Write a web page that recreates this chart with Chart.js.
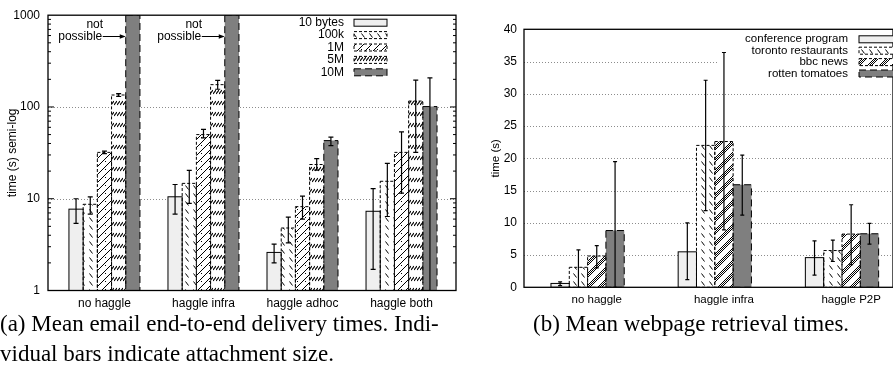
<!DOCTYPE html>
<html>
<head>
<meta charset="utf-8">
<script src="https://cdn.jsdelivr.net/npm/chart.js@4"></script>
<style>
body { margin: 0; background: #fff; width: 893px; height: 375px; overflow: hidden; position: relative; }
#emailChart { position: absolute; left: 0; top: 0; }
#webChart { position: absolute; left: 476px; top: 0; }
.cap { position: absolute; font-family: "Liberation Serif", "Times New Roman", serif; font-size: 23px; line-height: 29.5px; color: #000; white-space: nowrap; }
</style>
</head>
<body>
<canvas id="emailChart" width="470" height="312"></canvas>
<canvas id="webChart" width="417" height="312"></canvas>
<div class="cap" style="left:0;top:309px">(a) Mean email end-to-end delivery times. Indi-<br>vidual bars indicate attachment size.</div>
<div class="cap" style="left:533px;top:309px">(b) Mean webpage retrieval times.</div>
<script>
// ---- (a) email delivery, semi-log ----
const emailGroups = ['no haggle', 'haggle infra', 'haggle adhoc', 'haggle both'];
const emailSizes = ['10 bytes', '100k', '1M', '5M', '10M'];
const emailTicks = [1, 10, 100, 1000];

const mean10b = [7.7, 10.5, 2.6, 7.3];
const low10b = [5.4, 6.8, 2.0, 1.7];
const high10b = [10.0, 14.3, 3.2, 12.9];

const mean100k = [8.7, 14.7, 4.8, 15.5];
const low100k = [6.8, 8.9, 3.3, 6.4];
const high100k = [10.5, 20.4, 6.3, 24.3];

const mean1M = [32, 50, 8.2, 32];
const low1M = [31, 46, 6.0, 11.5];
const high1M = [33, 57, 10.7, 53.5];

const mean5M = [135, 175, 23.6, 116];
const low5M = [130, 156, 20.5, 32];
const high5M = [140, 195, 27.3, 196];

// 1000 = off the top of the axis ("not possible")
const mean10M = [1000, 1000, 43, 101];
const low10M = [null, null, 38, 1];
const high10M = [null, null, 47, 207];
const notPossible = [true, true, false, false];

// ---- (b) webpage retrieval ----
const webGroups = ['no haggle', 'haggle infra', 'haggle P2P'];
const webSites = ['conference program', 'toronto restaurants', 'bbc news', 'rotten tomatoes'];
const webTicks = [0, 5, 10, 15, 20, 25, 30, 35, 40];

const meanConf = [0.6, 5.5, 4.6];
const lowConf = [0.25, 1.2, 1.9];
const highConf = [0.85, 10.0, 7.2];

const meanToronto = [3.1, 22.0, 5.7];
const lowToronto = [0, 11.9, 4.0];
const highToronto = [5.8, 32.1, 7.3];

const meanBbc = [4.85, 22.6, 8.25];
const lowBbc = [3.0, 8.9, 3.5];
const highBbc = [6.45, 36.4, 12.8];

const meanRotten = [8.8, 15.9, 8.3];
const lowRotten = [0, 11.2, 6.7];
const highRotten = [19.5, 20.5, 9.9];

Chart.defaults.font.family = '"Liberation Sans", Arial, sans-serif';
Chart.defaults.color = '#000';

// fill patterns
function tile(w, h, paint) {
    const c = document.createElement('canvas');
    c.width = w; c.height = h;
    const g = c.getContext('2d');
    g.fillStyle = '#fff';
    g.fillRect(0, 0, w, h);
    g.strokeStyle = '#000';
    g.lineWidth = 1;
    paint(g);
    return g.createPattern(c, 'repeat');
}
const LIGHT = '#efefef';
const DARK = '#7f7f7f';
const dashBack = tile(8, 8, g => { g.beginPath(); g.moveTo(1.5, 1.5); g.lineTo(4.5, 5.5); g.stroke(); });
const slashLines = tile(8, 8, g => {
    g.beginPath();
    g.moveTo(0, 8); g.lineTo(8, 0);
    g.moveTo(-1, 1); g.lineTo(1, -1);
    g.moveTo(7, 9); g.lineTo(9, 7);
    g.stroke();
    g.fillStyle = '#000';
    g.fillRect(1, 1, 1, 1);
});
const hatchBands = tile(3, 11, g => { g.lineWidth = 1.2; g.beginPath(); g.moveTo(0, 6); g.lineTo(3, 2); g.stroke(); });
const bbcHatch = tile(12, 12, g => {
    g.beginPath();
    g.moveTo(0, 0); g.lineTo(6, 0); g.lineTo(0, 6); g.closePath();
    g.moveTo(12, 0); g.lineTo(12, 6); g.lineTo(6, 12); g.lineTo(0, 12); g.closePath();
    g.clip();
    g.beginPath();
    for (let k = -12; k <= 12; k += 2) { g.moveTo(k, 0); g.lineTo(k + 12, 12); }
    g.stroke();
});

const emailStyles = [
    { fill: LIGHT, dash: [] },
    { fill: dashBack, dash: [3, 2] },
    { fill: slashLines, dash: [3, 2] },
    { fill: hatchBands, dash: [3, 2] },
    { fill: DARK, dash: [7, 4] }
];
const webStyles = [
    { fill: LIGHT, dash: [] },
    { fill: dashBack, dash: [3, 2] },
    { fill: bbcHatch, dash: [3, 2] },
    { fill: DARK, dash: [7, 4] }
];

// grid, outlines, error bars, frame, key
const panelExtras = {
    id: 'panelExtras',
    beforeDatasetsDraw(chart, args, o) {
        const { ctx, chartArea: a, scales: { y } } = chart;
        ctx.save();
        ctx.strokeStyle = '#8c8c8c';
        ctx.lineWidth = 1;
        ctx.setLineDash([1, 2]);
        o.grid.forEach(v => {
            const py = Math.round(y.getPixelForValue(v)) + 0.5;
            ctx.beginPath(); ctx.moveTo(a.left, py); ctx.lineTo(a.right, py); ctx.stroke();
        });
        ctx.setLineDash([]);
        if (o.keyBox) { ctx.fillStyle = '#fff'; ctx.fillRect(o.keyBox[0], o.keyBox[1], o.keyBox[2], o.keyBox[3]); }
        ctx.restore();
    },
    afterDatasetsDraw(chart, args, o) {
        const { ctx, chartArea: a, scales: { y } } = chart;
        ctx.save();
        ctx.beginPath();
        ctx.rect(a.left, a.top, a.right - a.left, a.bottom - a.top);
        ctx.clip();
        ctx.strokeStyle = '#000';
        ctx.lineWidth = 1;
        chart.data.datasets.forEach((ds, d) => {
            ctx.setLineDash(o.styles[d].dash);
            chart.getDatasetMeta(d).data.forEach(bar => {
                const p = bar.getProps(['x', 'y', 'base', 'width'], true);
                ctx.strokeRect(p.x - p.width / 2, p.y, p.width, p.base - p.y);
            });
        });
        ctx.setLineDash([]);
        ctx.lineWidth = 1.2;
        chart.data.datasets.forEach((ds, d) => {
            chart.getDatasetMeta(d).data.forEach((bar, i) => {
                if (ds.errHigh[i] == null) return;
                const yh = y.getPixelForValue(ds.errHigh[i]);
                const yl = y.getPixelForValue(ds.errLow[i]);
                ctx.beginPath();
                ctx.moveTo(bar.x, yh); ctx.lineTo(bar.x, yl);
                ctx.moveTo(bar.x - o.cap, yh); ctx.lineTo(bar.x + o.cap, yh);
                ctx.moveTo(bar.x - o.cap, yl); ctx.lineTo(bar.x + o.cap, yl);
                ctx.stroke();
            });
        });
        ctx.restore();

        ctx.save();
        ctx.strokeStyle = '#000';
        ctx.lineWidth = 1;
        // inner tick marks (log minor ticks on left panel)
        (o.minor || []).forEach(v => {
            const py = y.getPixelForValue(v);
            ctx.beginPath();
            ctx.moveTo(a.left, py); ctx.lineTo(a.left + 3, py);
            ctx.moveTo(a.right, py); ctx.lineTo(a.right - 3, py);
            ctx.stroke();
        });
        (o.major || []).forEach(v => {
            const py = y.getPixelForValue(v);
            ctx.beginPath();
            ctx.moveTo(a.left, py); ctx.lineTo(a.left + 6, py);
            ctx.moveTo(a.right, py); ctx.lineTo(a.right - 6, py);
            ctx.stroke();
        });
        ctx.lineWidth = 1.3;
        ctx.strokeRect(a.left, a.top, a.right - a.left, a.bottom - a.top);

        // key
        const k = o.key;
        ctx.font = k.font;
        ctx.textAlign = 'right';
        ctx.textBaseline = 'middle';
        ctx.lineWidth = 1;
        k.labels.forEach((lab, j) => {
            const ry = k.y0 + j * k.dy;
            ctx.fillStyle = '#000';
            ctx.fillText(lab, k.textRight, ry);
            ctx.fillStyle = o.styles[j].fill;
            ctx.fillRect(k.sx, ry - k.sh / 2, k.sw, k.sh);
            ctx.setLineDash(o.styles[j].dash);
            ctx.strokeRect(k.sx, ry - k.sh / 2, k.sw, k.sh);
            ctx.setLineDash([]);
        });
        ctx.restore();
        if (o.after) o.after(chart);
    }
};

function datasetsFrom(names, means, lows, highs, styles, pct) {
    return names.map((name, k) => ({
        label: name,
        data: means[k].map((v, i) => ({ x: i, y: v })),
        errLow: lows[k],
        errHigh: highs[k],
        backgroundColor: styles[k].fill,
        borderWidth: 0,
        categoryPercentage: pct,
        barPercentage: 1
    }));
}

// (a) chart
new Chart(document.getElementById('emailChart'), {
    type: 'bar',
    data: {
        datasets: datasetsFrom(emailSizes,
            [mean10b, mean100k, mean1M, mean5M, mean10M],
            [low10b, low100k, low1M, low5M, low10M],
            [high10b, high100k, high1M, high5M, high10M],
            emailStyles, 0.717)
    },
    options: {
        responsive: false,
        animation: false,
        devicePixelRatio: 1,
        layout: { padding: { top: 12, left: 0, right: 14, bottom: 0 } },
        plugins: {
            legend: { display: false },
            tooltip: { enabled: false },
            panelExtras: {
                styles: emailStyles,
                grid: [10, 100],
                major: [10, 100],
                minor: [2, 3, 4, 5, 6, 7, 8, 9, 20, 30, 40, 50, 60, 70, 80, 90, 200, 300, 400, 500, 600, 700, 800, 900],
                cap: 2.5,
                key: { labels: emailSizes, font: '12px "Liberation Sans", Arial, sans-serif', textRight: 344, sx: 354, sw: 33, sh: 7, y0: 22.7, dy: 12.4 },
                after(chart) {
                    const ctx = chart.ctx;
                    const meta = chart.getDatasetMeta(4);
                    ctx.save();
                    ctx.font = '12px "Liberation Sans", Arial, sans-serif';
                    ctx.fillStyle = '#000';
                    ctx.strokeStyle = '#000';
                    ctx.textBaseline = 'middle';
                    notPossible.forEach((flag, i) => {
                        if (!flag) return;
                        const bar = meta.data[i];
                        const tip = bar.x - bar.width / 2;
                        const ay = chart.chartArea.top + 21.3;
                        ctx.textAlign = 'center';
                        ctx.fillText('not', tip - 31, ay - 11.6);
                        ctx.textAlign = 'right';
                        ctx.fillText('possible', tip - 23.5, ay);
                        ctx.lineWidth = 1;
                        ctx.beginPath();
                        ctx.moveTo(tip - 23, ay); ctx.lineTo(tip - 4, ay);
                        ctx.stroke();
                        ctx.beginPath();
                        ctx.moveTo(tip, ay); ctx.lineTo(tip - 6, ay - 2.2); ctx.lineTo(tip - 6, ay + 2.2);
                        ctx.closePath();
                        ctx.fill();
                    });
                    ctx.restore();
                }
            }
        },
        scales: {
            x: {
                type: 'linear',
                min: -0.57,
                max: 3.55,
                offset: false,
                grid: { display: false, drawTicks: false },
                border: { display: false },
                afterBuildTicks: s => { s.ticks = emailGroups.map((_, i) => ({ value: i })); },
                ticks: { callback: (v, i) => emailGroups[i], padding: 6, autoSkip: false, maxRotation: 0, font: { size: 12 } },
                afterFit: s => { s.height = 21.5; }
            },
            y: {
                type: 'logarithmic',
                min: 1,
                max: 1000,
                grid: { display: false, drawTicks: false },
                border: { display: false },
                afterBuildTicks: s => { s.ticks = emailTicks.map(v => ({ value: v })); },
                ticks: { callback: v => String(v), padding: 8, font: { size: 12 } },
                title: { display: true, text: 'time (s) semi-log', font: { size: 12 }, padding: { top: 5, bottom: 0 } },
                afterFit: s => { s.width = 48; }
            }
        }
    },
    plugins: [panelExtras]
});

// (b) chart
new Chart(document.getElementById('webChart'), {
    type: 'bar',
    data: {
        datasets: datasetsFrom(webSites,
            [meanConf, meanToronto, meanBbc, meanRotten],
            [lowConf, lowToronto, lowBbc, lowRotten],
            [highConf, highToronto, highBbc, highRotten],
            webStyles, 0.576)
    },
    options: {
        responsive: false,
        animation: false,
        devicePixelRatio: 1,
        layout: { padding: { top: 29.3, left: 0, right: 0, bottom: 0 } },
        plugins: {
            legend: { display: false },
            tooltip: { enabled: false },
            panelExtras: {
                styles: webStyles,
                grid: [5, 10, 15, 20, 25, 30, 35],
                cap: 2,
                keyBox: [242, 31, 175, 49],
                key: { labels: webSites, font: '11.5px "Liberation Sans", Arial, sans-serif', textRight: 372, sx: 383, sw: 36, sh: 7, y0: 39.3, dy: 11.4 }
            }
        },
        scales: {
            x: {
                type: 'linear',
                min: -0.5,
                max: 2.401,
                offset: false,
                grid: { display: false, drawTicks: false },
                border: { display: false },
                // gnuplot puts the tic under the third bar of each cluster
                afterBuildTicks: s => { s.ticks = webGroups.map((_, i) => ({ value: i + 0.072 })); },
                ticks: { callback: (v, i) => webGroups[i], padding: 6, autoSkip: false, maxRotation: 0, font: { size: 11.5 } },
                afterFit: s => { s.height = 24.7; }
            },
            y: {
                type: 'linear',
                min: 0,
                max: 40,
                grid: { display: false, drawTicks: false },
                border: { display: false },
                afterBuildTicks: s => { s.ticks = webTicks.map(v => ({ value: v })); },
                ticks: { padding: 7, font: { size: 12 } },
                title: { display: true, text: 'time (s)', font: { size: 11.5 }, padding: { top: 12.5, bottom: 0 } },
                afterFit: s => { s.width = 48; }
            }
        }
    },
    plugins: [panelExtras]
});
</script>
</body>
</html>
